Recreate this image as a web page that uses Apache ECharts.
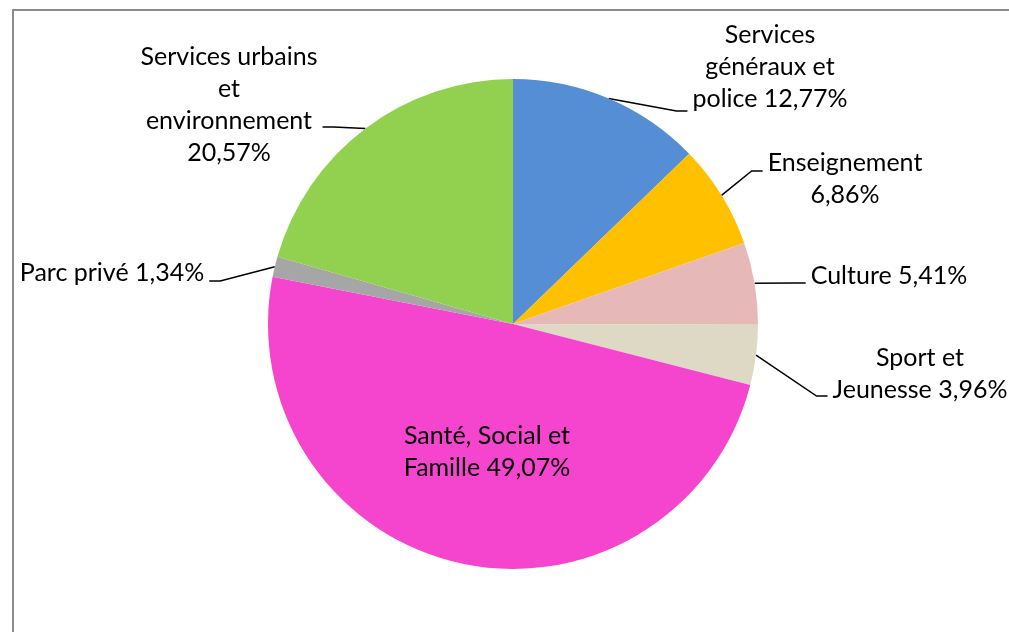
<!DOCTYPE html>
<html>
<head>
<meta charset="utf-8">
<script src="https://cdn.jsdelivr.net/npm/echarts@6/dist/echarts.min.js"></script>
<style>
  html, body { margin: 0; padding: 0; background: #fff; }
  #chart { width: 1009px; height: 632px; }
</style>
</head>
<body>
<div id="chart"></div>
<script>
// categories, clockwise from the top
const categories = [
  'Services généraux et police',
  'Enseignement',
  'Culture',
  'Sport et Jeunesse',
  'Santé, Social et Famille',
  'Parc privé',
  'Services urbains et environnement'
]
// label text as it is broken in the picture (value is appended)
const labelText = [
  'Services\ngénéraux et\npolice ',
  'Enseignement\n',
  'Culture ',
  'Sport et\nJeunesse ',
  'Santé, Social et\nFamille ',
  'Parc privé ',
  'Services urbains\net\nenvironnement\n'
]
const shares = [12.77, 6.86, 5.41, 3.96, 49.07, 1.34, 20.57]
const colors = ['#558ED5', '#FFC000', '#E6B9B8', '#DDD9C4', '#F545CE', '#A6A6A6', '#92D050']

// label centres and where the leader line meets the label (layout only)
const labelPos = [
  [770, 67], [845, 179], [889, 276], [920, 374], [487, 452], [112, 273], [229, 105]
]
const lineDy = [44, -8, 7, 22, 0, 8, 22]

const chart = echarts.init(document.getElementById('chart'))

const fmt = v => v.toFixed(2).replace('.', ',') + '%'

chart.setOption({
  animation: false,
  graphic: [{
    type: 'rect',
    shape: { x: 13, y: 10, width: 1200, height: 800 },
    style: { fill: 'none', stroke: '#8c8c8c', lineWidth: 2 },
    silent: true
  }],
  series: [{
    type: 'pie',
    center: [513, 324],
    radius: 245,
    startAngle: 90,
    clockwise: true,
    data: categories.map((name, i) => ({
      name: name,
      value: shares[i],
      itemStyle: { color: colors[i] },
      labelLine: { show: i !== 4 }
    })),
    label: {
      show: true,
      color: '#000',
      fontFamily: 'Lato',
      fontSize: 25,
      lineHeight: 32,
      align: 'center',
      formatter: p => labelText[p.dataIndex] + fmt(p.value)
    },
    labelLine: {
      show: true,
      lineStyle: { color: '#000', width: 1.5 }
    },
    labelLayout: p => {
      const i = p.dataIndex
      const [x, y] = labelPos[i]
      const out = { x: x, y: y, align: 'center', verticalAlign: 'middle' }
      if (p.labelLinePoints && i !== 4) {
        const anchor = p.labelLinePoints[0]
        const right = anchor[0] < x
        const halfW = p.labelRect.width / 2
        const endX = right ? x - halfW - 5 : x + halfW + 5
        const endY = y + lineDy[i]
        const knee = [endX + (right ? -11 : 11), endY]
        out.labelLinePoints = [anchor, knee, [endX, endY]]
      }
      return out
    }
  }]
})
</script>
</body>
</html>
